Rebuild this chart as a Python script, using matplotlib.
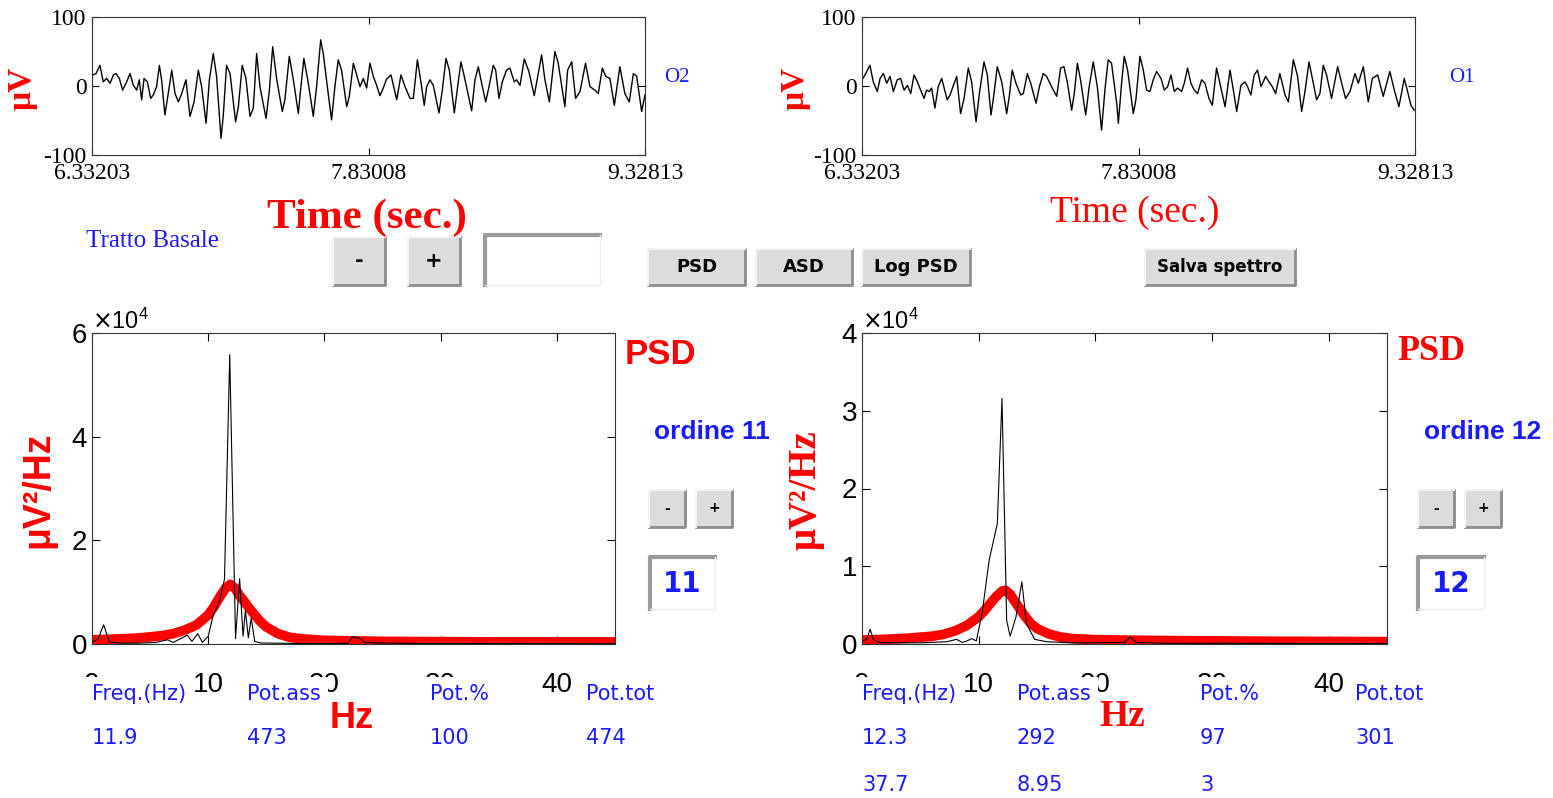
import matplotlib.pyplot as plt
from matplotlib.patches import Rectangle

plt.rcParams['axes.unicode_minus'] = False

W, H = 1553, 798

# EEG traces (time in s, amplitude in uV)
o2_t = [6.332, 6.336, 6.354, 6.375, 6.393, 6.411, 6.430, 6.448, 6.462, 6.480, 6.498,
        6.520, 6.538, 6.556, 6.574, 6.588, 6.601, 6.614, 6.632, 6.650, 6.664,
        6.682, 6.697, 6.709, 6.727, 6.745, 6.764, 6.782, 6.800, 6.818, 6.841,
        6.863, 6.885, 6.908, 6.926, 6.950, 6.968, 6.989, 7.007, 7.031, 7.043,
        7.061, 7.080, 7.110, 7.125, 7.146, 7.166, 7.188, 7.206, 7.224, 7.242,
        7.275, 7.293, 7.311, 7.332, 7.363, 7.377, 7.401, 7.423, 7.450, 7.462,
        7.480, 7.504, 7.531, 7.549, 7.571, 7.585, 7.607, 7.630, 7.648, 7.666,
        7.684, 7.712, 7.726, 7.748, 7.766, 7.784, 7.802, 7.820, 7.838,
        7.856, 7.874, 7.892, 7.910, 7.928, 7.952, 7.983, 8.006, 8.028, 8.055,
        8.073, 8.095, 8.114, 8.132, 8.145, 8.163, 8.181, 8.212, 8.230, 8.250,
        8.268, 8.295, 8.313, 8.331, 8.349, 8.389, 8.407, 8.425, 8.443, 8.465,
        8.483, 8.506, 8.519, 8.537, 8.555, 8.578, 8.596, 8.620, 8.633, 8.651,
        8.674, 8.699, 8.728, 8.750, 8.768, 8.786, 8.810, 8.840, 8.858, 8.894,
        8.909, 8.931, 8.952, 8.976, 9.006, 9.030, 9.057, 9.075, 9.097, 9.115,
        9.138, 9.162, 9.192, 9.219, 9.243, 9.265, 9.283, 9.310, 9.328]
o2_v = [12, 16, 18, 30, 6, 11, 4, 16, 18, 11, -6,
        6, 18, 1, -6, 9, -20, 11, 6, -18, -13,
        -1, 30, 9, -42, -11, 23, -11, -23, -11, 9,
        -44, -23, 23, -1, -54, 9, 47, 14, -76, -44,
        30, 18, -52, -30, 30, 11, -44, -32, 47, -1,
        -47, -6, 57, 11, -37, -20, 43, 9, -40, -6,
        40, 4, -44, -1, 67, 47, -1, -49, -1, 38,
        23, -30, -15, 33, 16, -1, 11, -3, 33,
        14, 1, -14, -3, 10, 16, -20, 16, -1, -18,
        -18, 38, 6, -28, -1, 9, 1, -39, -6, 40,
        23, -39, -1, 35, 14, -36, 9, 28, 4, -23,
        -1, 30, 23, -18, 6, 23, 26, 6, 9, 1,
        39, 21, -14, 18, 45, 9, -23, 50, 33, -30,
        23, 35, -18, -8, 33, -1, -6, -11, 26, 14,
        11, -28, 28, -11, -23, 18, 14, -37, -13]

o1_t = [6.332, 6.348, 6.375, 6.393, 6.415, 6.430, 6.448, 6.466, 6.484, 6.502,
        6.523, 6.541, 6.560, 6.578, 6.596, 6.614, 6.632, 6.650, 6.668, 6.682,
        6.697, 6.709, 6.727, 6.745, 6.764, 6.782, 6.794, 6.809, 6.845, 6.866,
        6.885, 6.908, 6.926, 6.950, 6.968, 6.993, 7.011, 7.031, 7.043, 7.065,
        7.089, 7.116, 7.130, 7.146, 7.166, 7.192, 7.206, 7.228, 7.246, 7.275,
        7.293, 7.314, 7.332, 7.359, 7.387, 7.408, 7.426, 7.444, 7.468, 7.482,
        7.499, 7.516, 7.544, 7.563, 7.585, 7.607, 7.630, 7.648, 7.666, 7.684,
        7.712, 7.721, 7.739, 7.753, 7.771, 7.802, 7.816,
        7.838, 7.856, 7.874, 7.892, 7.910, 7.928, 7.952, 7.970, 7.988, 8.006,
        8.024, 8.042, 8.064, 8.078, 8.096, 8.114, 8.132, 8.150, 8.172, 8.190,
        8.212, 8.230, 8.253, 8.277, 8.299, 8.326, 8.344, 8.362, 8.385, 8.407,
        8.421, 8.439, 8.457, 8.475, 8.494, 8.519, 8.537, 8.555, 8.573, 8.596,
        8.624, 8.642, 8.669, 8.692, 8.714, 8.732, 8.754, 8.772, 8.795, 8.813,
        8.831, 8.849, 8.876, 8.909, 8.931, 8.952, 8.976, 9.003, 9.021, 9.048,
        9.075, 9.097, 9.126, 9.156, 9.192, 9.216, 9.241, 9.270, 9.288, 9.306,
        9.324]
o1_v = [9, 16, 30, 6, -8, 11, 18, 4, 14, -8,
        9, 11, -6, 1, -11, 16, 6, -6, -18, -6,
        -8, -3, -32, -1, 11, -8, -20, -13, 14, -40,
        -18, 26, 6, -52, -11, 35, 16, -42, -20, 28,
        6, -40, -15, 23, 4, -13, -11, 18, 4, -25,
        -1, 18, 14, -1, -15, 26, 28, 6, -35, -11,
        33, 9, -42, -1, 35, -1, -64, -6, 38, 33,
        -25, -54, 6, 43, 23, -40, -20,
        43, 23, -6, -8, 9, 21, 11, -6, -1, 16,
        -8, -3, -8, 4, 26, 4, -6, -11, 9, 4,
        -18, -28, 26, -3, -30, 23, -6, -37, 1, 6,
        -1, -13, 16, 23, -1, 14, 6, -1, -11, 18,
        -13, -23, 38, 14, -37, -8, 35, 11, -20, -11,
        30, 16, -18, 28, 4, -18, -8, 18, 4, 28,
        -23, 11, 16, -15, 21, -6, -30, 11, -8, -28,
        -35]

time_ticks = [6.33203, 7.83008, 9.32813]
time_labels = ['6.33203', '7.83008', '9.32813']

# spectra (Hz, uV^2/Hz): periodogram (black) and AR model (red)
psd_l_f = [0, 0.5, 1.0, 1.5, 2.5, 4.0, 5.5, 6.5, 7.0, 7.5, 8.2, 8.6, 9.1, 9.5, 10.0,
           10.4, 11.0, 11.4, 11.85, 12.35, 12.7, 13.0, 13.2, 13.45, 13.7, 14.0,
           14.5, 16, 18, 20, 22.0, 22.4, 23.0, 23.5, 24.5, 28, 35, 45]
psd_l_v = [400, 900, 3700, 400, 150, 150, 300, 800, 300, 900, 1700, 500, 2000, 300,
           1500, 5300, 8500, 12500, 55800, 1000, 12600, 1500, 6500, 1200, 5000,
           500, 200, 150, 100, 100, 100, 1400, 1100, 300, 200, 100, 80, 50]
ar_l_f = [0, 2, 4, 6, 7, 8, 9, 10, 10.5, 11, 11.5, 11.9, 12.3, 12.7, 13, 13.5, 14,
          14.5, 15, 16, 17, 18, 20, 25, 30, 35, 40, 45]
ar_l_v = [800, 950, 1150, 1600, 2000, 2700, 3700, 5600, 7200, 9100, 10800, 11500,
          10800, 9300, 8500, 7000, 5600, 4300, 3300, 2000, 1300, 1000, 700, 500,
          450, 400, 400, 400]

psd_r_f = [0, 0.4, 0.7, 1.0, 1.5, 3, 5, 7.3, 8.1, 8.6, 9.0, 9.4, 9.8, 10.3, 10.9,
           11.6, 12.0, 12.4, 12.7, 13.2, 13.7, 14.1, 14.8, 15.8, 18, 22.5, 23.0,
           23.5, 26, 35, 45]
psd_r_v = [400, 600, 1900, 500, 200, 150, 150, 300, 600, 200, 400, 700, 400, 4000,
           10800, 15500, 31600, 3000, 1000, 3500, 8000, 2600, 600, 300, 150, 200,
           900, 200, 100, 80, 50]
ar_r_f = [0, 2, 4, 6, 7, 8, 9, 10, 10.5, 11, 11.5, 12.0, 12.3, 12.7, 13, 13.5, 14,
          14.5, 15, 16, 17, 18, 20, 25, 30, 35, 40, 45]
ar_r_v = [500, 600, 750, 1000, 1250, 1700, 2400, 3500, 4300, 5200, 6100, 6800,
          6900, 6400, 5700, 4600, 3500, 2600, 2000, 1300, 900, 700, 550, 450, 400,
          350, 330, 300]

table_head = ['Freq.(Hz)', 'Pot.ass', 'Pot.%', 'Pot.tot']
table_l = [['11.9', '473', '100', '474']]
table_r = [['12.3', '292', '97', '301'], ['37.7', '8.95', '3', '']]

SERIF = 'Liberation Serif'
SANS = 'Liberation Sans'
BLUE = '#1a1aff'


def rect(x0, y0, x1, y1):
    return [x0 / W, 1 - y1 / H, (x1 - x0) / W, (y1 - y0) / H]


fig = plt.figure(figsize=(W / 100, H / 100), dpi=100)


def trace_axes(box, t, v):
    ax = fig.add_axes(rect(*box))
    ax.plot(t, v, color='black', lw=1.0)
    ax.set_xlim(time_ticks[0], time_ticks[-1])
    ax.set_ylim(-100, 100)
    ax.set_xticks(time_ticks, time_labels)
    ax.set_yticks([-100, 0, 100])
    ax.tick_params(direction='in', top=True, right=True, length=5, labelsize=17,
                   pad=4)
    ax.tick_params(axis='x', pad=6)
    for lab in ax.get_xticklabels() + ax.get_yticklabels():
        lab.set_fontfamily(SERIF)
    for s in ax.spines.values():
        s.set_color('#333333')
    return ax


def psd_axes(box, f, v, af, av, ymax, yticks):
    ax = fig.add_axes(rect(*box))
    ax.plot(af, av, color='red', lw=7, solid_capstyle='butt')
    ax.plot(f, v, color='black', lw=0.8)
    ax.set_xlim(0, 45)
    ax.set_ylim(0, ymax)
    ax.set_xticks([0, 10, 20, 30, 40])
    ax.set_yticks(yticks)
    ax.ticklabel_format(axis='y', style='sci', scilimits=(4, 4), useMathText=True)
    ax.yaxis.get_offset_text().set_fontsize(17)
    ax.yaxis.get_offset_text().set_fontfamily(SANS)
    ax.tick_params(direction='in', top=True, right=True, length=6, labelsize=20)
    ax.tick_params(axis='x', pad=20)
    for lab in ax.get_xticklabels() + ax.get_yticklabels():
        lab.set_fontfamily(SANS)
    for s in ax.spines.values():
        s.set_color('#333333')
    return ax


trace_axes((92, 17, 645, 155), o2_t, o2_v)
trace_axes((862, 17, 1415, 155), o1_t, o1_v)
psd_axes((92, 333, 615, 644), psd_l_f, psd_l_v, ar_l_f, ar_l_v, 6e4,
         [0, 2e4, 4e4, 6e4])
psd_axes((862, 333, 1387, 644), psd_r_f, psd_r_v, ar_r_f, ar_r_v, 4e4,
         [0, 1e4, 2e4, 3e4, 4e4])

# overlay in pixel coordinates for labels and GUI widgets
ov = fig.add_axes([0, 0, 1, 1], zorder=10)
ov.set_xlim(0, W)
ov.set_ylim(H, 0)
ov.axis('off')
ov.patch.set_alpha(0)


def button(x0, y0, x1, y1, label, fs=13):
    ov.add_patch(Rectangle((x0, y0), x1 - x0, y1 - y0, facecolor='#dcdcdc',
                           edgecolor='none'))
    ov.plot([x0, x1, x1], [y1, y1, y0], color='#8c8c8c', lw=2)
    ov.plot([x0, x0, x1], [y1, y0, y0], color='#f4f4f4', lw=1.5)
    ov.text((x0 + x1) / 2, (y0 + y1) / 2, label, ha='center', va='center',
            fontsize=fs, fontweight='bold', family='DejaVu Sans')


def field(x0, y0, x1, y1, label='', color=BLUE, fs=20):
    ov.add_patch(Rectangle((x0, y0), x1 - x0, y1 - y0, facecolor='white',
                           edgecolor='none'))
    ov.plot([x0, x0, x1], [y1, y0, y0], color='#9a9a9a', lw=3)
    ov.plot([x0, x1, x1], [y1, y1, y0], color='#ececec', lw=1)
    ov.text((x0 + x1) / 2, (y0 + y1) / 2 + 1, label, ha='center', va='center',
            fontsize=fs, fontweight='bold', color=color, family='DejaVu Sans')


# top panels
ov.text(677, 77, 'O2', color=BLUE, fontsize=15, family=SERIF, ha='center', va='center')
ov.text(1462, 77, 'O1', color=BLUE, fontsize=15, family=SERIF, ha='center', va='center')
ov.text(22, 88, 'μV', color='red', fontsize=24, fontweight='bold', family=SERIF,
        rotation=90, ha='center', va='center')
ov.text(795, 88, 'μV', color='red', fontsize=24, fontweight='bold', family=SERIF,
        rotation=90, ha='center', va='center')
ov.text(367, 218, 'Time (sec.)', color='red', fontsize=31, fontweight='bold',
        family=SERIF, ha='center', va='center')
ov.text(1135, 213, 'Time (sec.)', color='red', fontsize=27, family=SERIF,
        ha='center', va='center')
ov.text(152, 241, 'Tratto Basale', color=BLUE, fontsize=18, family=SERIF,
        ha='center', va='center')

button(333, 237, 385, 285, '-', 15)
button(408, 237, 460, 285, '+', 15)
field(485, 235, 600, 285)
button(648, 249, 745, 285, 'PSD')
button(756, 249, 852, 285, 'ASD')
button(862, 249, 970, 285, 'Log PSD')
button(1145, 249, 1295, 285, 'Salva spettro', 12)

# PSD panels
ov.text(660, 355, 'PSD', color='red', fontsize=25, fontweight='bold', family=SANS,
        ha='center', va='center')
ov.text(1431, 352, 'PSD', color='red', fontsize=26, fontweight='bold', family=SERIF,
        ha='center', va='center')
ov.text(712, 432, 'ordine 11', color=BLUE, fontsize=19, fontweight='bold',
        family=SANS, ha='center', va='center')
ov.text(1483, 432, 'ordine 12', color=BLUE, fontsize=19, fontweight='bold',
        family=SANS, ha='center', va='center')
for x0 in (649, 1418):
    button(x0, 490, x0 + 36, 527, '-', 10)
    button(x0 + 47, 490, x0 + 83, 527, '+', 10)
field(650, 557, 715, 609, '11')
field(1418, 557, 1484, 609, '12')
ov.text(38, 490, 'μV²/Hz', color='red', fontsize=27, fontweight='bold', family=SANS,
        rotation=90, ha='center', va='center')
ov.text(806, 490, 'μV²/Hz', color='red', fontsize=28, fontweight='bold',
        family=SERIF, rotation=90, ha='center', va='center')
ov.text(352, 718, 'Hz', color='red', fontsize=26, fontweight='bold', family=SANS,
        ha='center', va='center')
ov.text(1122, 716, 'Hz', color='red', fontsize=27, fontweight='bold', family=SERIF,
        ha='center', va='center')

# result tables
for cols, rows in (([92, 247, 430, 586], table_l), ([862, 1017, 1200, 1355], table_r)):
    for x, head in zip(cols, table_head):
        ov.text(x, 694, head, color=BLUE, fontsize=15, family='DejaVu Sans Condensed',
                ha='left', va='center',
                bbox=dict(facecolor='white', edgecolor='none', pad=5))
    for r, row in enumerate(rows):
        for x, val in zip(cols, row):
            ov.text(x, 738 + 47 * r, val, color=BLUE, fontsize=15,
                    family='DejaVu Sans Condensed', ha='left', va='center')

fig.savefig('out.png', dpi=100)
